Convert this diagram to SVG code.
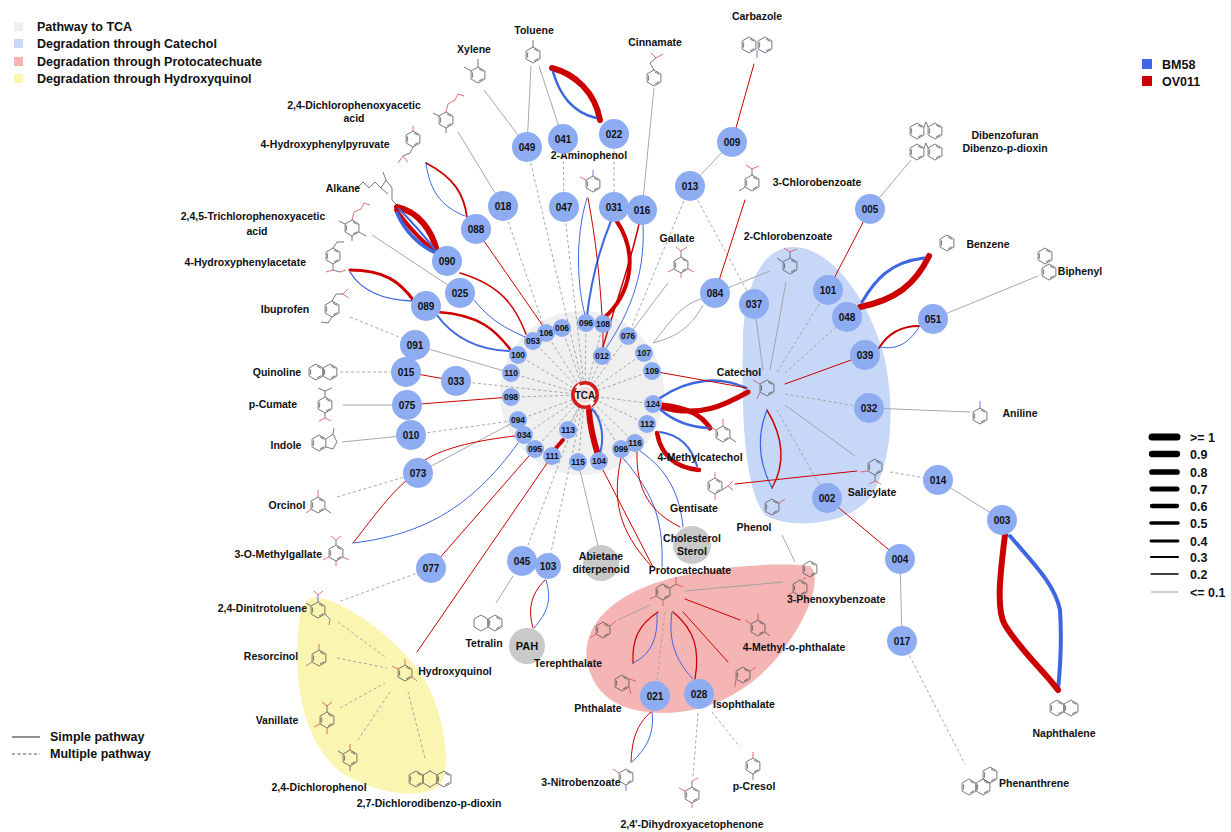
<svg xmlns="http://www.w3.org/2000/svg" width="1231" height="832" viewBox="0 0 1231 832">
<style>
text{font-family:"Liberation Sans",Arial,sans-serif;font-weight:bold;fill:#111}
.lb{font-size:10.5px;text-anchor:middle}
.le{font-size:10.5px;text-anchor:end}
.ls{font-size:10.5px;text-anchor:start}
.lg{font-size:12.5px}
.n{fill:#8eacf2}
.gn{fill:#c9c9c9}
.nt{font-size:10px;text-anchor:middle}
.ni{font-size:8.5px;text-anchor:middle}
.r{stroke:#cc0000;fill:none;stroke-linecap:round}
.b{stroke:#3d66e0;fill:none;stroke-linecap:round}
.g{stroke:#9d9d9d;fill:none;stroke-width:.9}
.d{stroke:#9d9d9d;fill:none;stroke-width:.9;stroke-dasharray:3 2.5}
.mol{stroke:#555;fill:none;stroke-width:.8}
.o{stroke:#d94b4b;fill:none;stroke-width:.8}
.nn{stroke:#4a5ad0;fill:none;stroke-width:.8}
.w{stroke:#000;stroke-linecap:round}
</style>
<defs>
<symbol id="bz" overflow="visible"><path d="M0,-8 L6.9,-4 L6.9,4 L0,8 L-6.9,4 L-6.9,-4 Z M1,-6 L5.2,-3.6 M5.2,3.6 L1,6 M-5.4,2.6 L-5.4,-2.6"/></symbol>
<symbol id="hx" overflow="visible"><path d="M0,-8 L6.9,-4 L6.9,4 L0,8 L-6.9,4 L-6.9,-4 Z"/></symbol>
</defs>

<g id="regions">
<circle cx="582" cy="393" r="82" fill="#efefef"/>
<path d="M790 247 C830 244 870 300 885 360 C895 410 892 460 872 495 C850 526 790 530 765 515 C745 490 741 420 743 340 C744 290 760 250 790 247 Z" fill="#c7d7f8"/>
<path d="M810 566 C822 576 810 612 790 640 C765 680 720 712 665 713 C625 713 595 700 587 662 C582 626 610 600 650 585 C690 570 760 561 810 566 Z" fill="#f5b5b5"/>
<path d="M315 597 C345 600 400 640 425 680 C445 715 452 770 440 785 C425 800 380 795 345 775 C310 752 296 700 297 650 C298 615 302 598 315 597 Z" fill="#fbf5b2"/>
</g>

<g id="legend-regions">
<rect x="14" y="22" width="9" height="9" fill="#efefef"/>
<rect x="14" y="39" width="9" height="9" fill="#c7d7f8"/>
<rect x="14" y="57" width="9" height="9" fill="#f5b5b5"/>
<rect x="14" y="74" width="9" height="9" fill="#fbf5b2"/>
<text class="lg" x="37" y="31">Pathway to TCA</text>
<text class="lg" x="37" y="48">Degradation through Catechol</text>
<text class="lg" x="37" y="66">Degradation through Protocatechuate</text>
<text class="lg" x="37" y="83">Degradation through Hydroxyquinol</text>
</g>
<g id="legend-strains">
<rect x="1142" y="59" width="10" height="10" fill="#3d66e0"/>
<rect x="1142" y="76" width="10" height="10" fill="#cc0000"/>
<text class="lg" x="1162" y="69">BM58</text>
<text class="lg" x="1162" y="86">OV011</text>
</g>
<g id="legend-lines">
<line x1="12" y1="737" x2="40" y2="737" stroke="#222" stroke-width="1"/>
<line x1="12" y1="754" x2="40" y2="754" stroke="#555" stroke-width="1" stroke-dasharray="3 2.5"/>
<text class="lg" x="50" y="741">Simple pathway</text>
<text class="lg" x="50" y="758">Multiple pathway</text>
</g>
<g id="legend-width">
<line class="w" x1="1152" y1="437" x2="1177" y2="437" stroke-width="7"/>
<line class="w" x1="1152" y1="454" x2="1177" y2="454" stroke-width="6.3"/>
<line class="w" x1="1152" y1="472" x2="1177" y2="472" stroke-width="5.7"/>
<line class="w" x1="1152" y1="489" x2="1177" y2="489" stroke-width="5"/>
<line class="w" x1="1152" y1="506" x2="1177" y2="506" stroke-width="4.3"/>
<line class="w" x1="1151" y1="523" x2="1178" y2="523" stroke-width="3.6"/>
<line class="w" x1="1151" y1="541" x2="1178" y2="541" stroke-width="2.9"/>
<line class="w" x1="1151" y1="557" x2="1178" y2="557" stroke-width="2.1"/>
<line class="w" x1="1151" y1="574" x2="1178" y2="574" stroke-width="1.4"/>
<line x1="1151" y1="592" x2="1178" y2="592" stroke="#999" stroke-width="1"/>
<text class="lg" x="1190" y="442">&gt;= 1</text>
<text class="lg" x="1190" y="459">0.9</text>
<text class="lg" x="1190" y="477">0.8</text>
<text class="lg" x="1190" y="494">0.7</text>
<text class="lg" x="1190" y="511">0.6</text>
<text class="lg" x="1190" y="528">0.5</text>
<text class="lg" x="1190" y="546">0.4</text>
<text class="lg" x="1190" y="562">0.3</text>
<text class="lg" x="1190" y="579">0.2</text>
<text class="lg" x="1190" y="597">&lt;= 0.1</text>
</g>

<g id="connectors">
<g>
<line class="d" x1="586" y1="323" x2="585" y2="395"/>
<line class="d" x1="562" y1="328" x2="585" y2="395"/>
<line class="d" x1="546" y1="333" x2="585" y2="395"/>
<line class="d" x1="533" y1="341" x2="585" y2="395"/>
<line class="d" x1="518" y1="355" x2="585" y2="395"/>
<line class="d" x1="511" y1="373" x2="585" y2="395"/>
<line class="d" x1="511" y1="397" x2="585" y2="395"/>
<line class="d" x1="518" y1="420" x2="585" y2="395"/>
<line class="d" x1="524" y1="435" x2="585" y2="395"/>
<line class="d" x1="535" y1="449" x2="585" y2="395"/>
<line class="d" x1="552" y1="456" x2="585" y2="395"/>
<line class="d" x1="568" y1="430" x2="585" y2="395"/>
<line class="d" x1="578" y1="462" x2="585" y2="395"/>
<line class="d" x1="621" y1="449" x2="585" y2="395"/>
<line class="d" x1="635" y1="443" x2="585" y2="395"/>
<line class="d" x1="647" y1="424" x2="585" y2="395"/>
<line class="d" x1="653" y1="404" x2="585" y2="395"/>
<line class="d" x1="652" y1="371" x2="585" y2="395"/>
<line class="d" x1="644" y1="353" x2="585" y2="395"/>
<line class="d" x1="628" y1="336" x2="585" y2="395"/>
<line class="d" x1="602" y1="356" x2="585" y2="395"/>
<line class="d" x1="603" y1="324" x2="585" y2="395"/>
</g>
<line class="g" x1="484" y1="90" x2="527" y2="147"/>
<line class="g" x1="531" y1="66" x2="527" y2="147"/>
<line class="g" x1="539" y1="66" x2="563" y2="139"/>
<path class="r" stroke-width="6" d="M552 68 C575 74 595 92 600 120"/>
<path class="b" stroke-width="2.5" d="M553 72 C560 95 572 112 596 118"/>
<line class="d" x1="527" y1="147" x2="585" y2="395"/>
<line class="d" x1="563" y1="139" x2="564" y2="207"/>
<line class="d" x1="564" y1="207" x2="585" y2="395"/>
<line class="d" x1="614" y1="134" x2="614" y2="207"/>
<line class="g" x1="654" y1="88" x2="642" y2="210"/>
<line class="r" x1="754" y1="64" x2="732" y2="142"/>
<line class="g" x1="732" y1="142" x2="690" y2="186"/>
<line class="d" x1="690" y1="186" x2="628" y2="336"/>
<line class="d" x1="690" y1="186" x2="754" y2="304"/>
<line class="g" x1="458" y1="132" x2="503" y2="206"/>
<line class="d" x1="503" y1="206" x2="546" y2="333"/>
<path class="r" stroke-width="1.8" d="M426 163 C455 178 464 195 467 217"/>
<path class="b" d="M426 163 C430 195 445 208 465 216"/>
<path class="r" stroke-width="6" d="M397 207 C420 212 432 232 437 251"/>
<path class="r" stroke-width="4" d="M396 210 C408 226 424 244 437 252"/>
<path class="b" stroke-width="3.5" d="M397 213 C405 232 420 246 436 253"/>
<path class="b" stroke-width="2" d="M399 209 C412 222 426 238 436 251"/>
<line class="g" x1="372" y1="235" x2="460" y2="293"/>
<path class="r" stroke-width="3" d="M350 270 C385 270 400 282 414 301"/>
<path class="b" stroke-width="1.3" d="M350 272 C362 292 385 300 412 301"/>
<path class="r" stroke-width="2.5" d="M438 312 C480 315 495 330 510 349"/>
<path class="b" stroke-width="2" d="M436 314 C455 340 480 350 509 351"/>
<path class="r" stroke-width="1.5" d="M460 273 C500 285 515 305 526 334"/>
<path class="b" d="M474 300 C490 320 505 328 525 337"/>
<line class="r" x1="484" y1="241" x2="543" y2="326"/>
<line class="g" x1="415" y1="345" x2="511" y2="373"/>
<line class="d" x1="350" y1="317" x2="404" y2="339"/>
<line class="d" x1="340" y1="372" x2="392" y2="372"/>
<line class="r" x1="406" y1="372" x2="456" y2="381"/>
<line class="d" x1="456" y1="381" x2="585" y2="395"/>
<line class="g" x1="343" y1="405" x2="407" y2="405"/>
<line class="r" x1="407" y1="405" x2="511" y2="397"/>
<line class="g" x1="342" y1="442" x2="411" y2="435"/>
<line class="d" x1="411" y1="435" x2="518" y2="420"/>
<line class="g" x1="418" y1="473" x2="518" y2="420"/>
<path class="r" d="M425 460 C445 447 480 440 515 436"/>
<line class="d" x1="337" y1="497" x2="418" y2="473"/>
<path class="r" d="M353 543 C375 515 393 490 410 478"/>
<path class="b" d="M353 543 C420 535 470 510 518 443"/>
<line class="r" x1="535" y1="449" x2="431" y2="568"/>
<line class="r" x1="552" y1="456" x2="417" y2="652"/>
<line class="d" x1="431" y1="568" x2="338" y2="602"/>
<line class="d" x1="338" y1="622" x2="385" y2="657"/>
<line class="d" x1="337" y1="658" x2="387" y2="668"/>
<line class="d" x1="340" y1="708" x2="385" y2="683"/>
<line class="d" x1="358" y1="740" x2="390" y2="692"/>
<line class="d" x1="425" y1="758" x2="408" y2="692"/>
<line class="d" x1="522" y1="561" x2="585" y2="395"/>
<line class="d" x1="548" y1="566" x2="585" y2="395"/>
<line class="g" x1="513" y1="576" x2="496" y2="603"/>
<path class="r" d="M545 580 C530 595 528 610 533 628"/>
<path class="b" d="M546 580 C552 600 548 612 534 628"/>
<line class="g" x1="578" y1="462" x2="598" y2="546"/>
<line class="r" x1="603" y1="470" x2="653" y2="567"/>
<path class="r" d="M621 458 C612 500 618 530 652 567"/>
<path class="b" d="M623 458 C650 490 664 515 662 567"/>
<path class="r" d="M637 452 C636 490 650 512 680 527"/>
<path class="b" d="M640 451 C668 470 680 495 683 527"/>
<path class="b" stroke-width="2" d="M592 409 C603 420 604 440 600 453"/>
<path class="r" stroke-width="6" d="M589 411 C590 428 594 442 598 455"/>
<line class="r" stroke-width="4" x1="556" y1="448" x2="563" y2="440"/>
<path class="b" stroke-width="2.5" d="M660 398 C690 378 720 376 746 388"/>
<path class="r" stroke-width="5" d="M661 407 C700 418 725 405 748 392"/>
<path class="r" stroke-width="5" d="M662 405 C690 408 702 416 710 428"/>
<path class="b" stroke-width="2.5" d="M661 410 C675 422 690 427 708 428"/>
<path class="r" stroke-width="4.5" d="M657 433 C662 460 680 468 699 470"/>
<path class="b" stroke-width="2" d="M660 432 C680 435 692 448 697 466"/>
<line class="r" x1="652" y1="371" x2="747" y2="388"/>
<path class="r" stroke-width="1.5" d="M767 410 C785 440 785 465 772 488"/>
<path class="b" stroke-width="1.2" d="M767 410 C755 440 760 465 772 488"/>
<line class="g" x1="763" y1="370" x2="754" y2="304"/>
<line class="g" x1="770" y1="370" x2="786" y2="282"/>
<line class="d" x1="777" y1="372" x2="828" y2="290"/>
<line class="d" x1="785" y1="373" x2="847" y2="317"/>
<line class="r" x1="785" y1="384" x2="865" y2="355"/>
<line class="d" x1="785" y1="394" x2="869" y2="408"/>
<line class="g" x1="785" y1="405" x2="855" y2="456"/>
<line class="d" x1="777" y1="410" x2="827" y2="498"/>
<line class="g" x1="869" y1="408" x2="970" y2="412"/>
<path class="r" stroke-width="2" d="M879 348 C890 330 905 326 919 326"/>
<path class="b" d="M880 347 C895 350 908 345 919 327"/>
<path class="r" stroke-width="6" d="M860 307 C895 300 915 285 929 256"/>
<path class="b" stroke-width="3" d="M862 302 C875 280 890 262 924 258"/>
<line class="g" x1="933" y1="319" x2="1038" y2="276"/>
<line class="r" x1="828" y1="290" x2="870" y2="209"/>
<line class="g" x1="870" y1="209" x2="911" y2="160"/>
<line class="r" x1="715" y1="293" x2="745" y2="200"/>
<line class="g" x1="715" y1="293" x2="770" y2="271"/>
<path class="g" d="M701 299 C680 305 668 325 653 343"/>
<path class="g" d="M703 305 C690 330 672 338 653 343"/>
<line class="g" x1="668" y1="283" x2="628" y2="336"/>
<path class="r" stroke-width="4" d="M616 220 C640 255 630 295 604 318"/>
<path class="b" stroke-width="2" d="M611 221 C597 255 590 290 587 316"/>
<path class="r" d="M588 198 C596 240 600 280 602 316"/>
<path class="b" d="M587 198 C574 240 578 290 585 315"/>
<path class="r" stroke-width="1.5" d="M639 224 C630 265 615 305 603 347"/>
<path class="b" d="M643 224 C646 280 625 320 606 348"/>
<line class="r" x1="603" y1="324" x2="603" y2="356"/>
<line class="r" x1="827" y1="498" x2="900" y2="559"/>
<line class="d" x1="890" y1="472" x2="938" y2="480"/>
<line class="g" x1="938" y1="480" x2="1002" y2="520"/>
<path class="b" stroke-width="4" d="M1010 536 C1035 565 1055 585 1060 610 C1062 640 1060 670 1058 690"/>
<path class="r" stroke-width="6" d="M1005 535 C1000 575 996 610 1005 625 C1020 650 1045 672 1058 690"/>
<line class="g" x1="900" y1="559" x2="902" y2="641"/>
<line class="d" x1="902" y1="641" x2="965" y2="764"/>
<line class="g" x1="782" y1="535" x2="795" y2="562"/>
<line class="r" x1="735" y1="484" x2="857" y2="471"/>
<line class="g" x1="685" y1="591" x2="783" y2="582"/>
<line class="g" x1="618" y1="620" x2="650" y2="605"/>
<line class="r" x1="685" y1="599" x2="740" y2="620"/>
<line class="r" x1="683" y1="612" x2="728" y2="662"/>
<path class="r" stroke-width="1.3" d="M673 612 C695 630 700 650 695 679"/>
<path class="b" d="M672 612 C668 640 675 660 693 679"/>
<path class="r" stroke-width="1.3" d="M658 612 C638 625 632 640 633 663"/>
<path class="b" d="M657 614 C658 640 650 655 633 663"/>
<line class="d" x1="665" y1="612" x2="657" y2="680"/>
<path class="r" d="M651 712 C636 725 632 740 631 762"/>
<path class="b" d="M652 712 C655 735 645 750 632 762"/>
<line class="d" x1="698" y1="713" x2="693" y2="777"/>
<line class="d" x1="712" y1="712" x2="740" y2="747"/>
</g>

<g id="toluene"><g class="mol"><use href="#bz" x="533" y="55"/><line x1="533" y1="47" x2="533" y2="40"/></g><text class="lb" x="534" y="34">Toluene</text></g>
<g id="xylene"><g class="mol"><use href="#bz" x="478" y="75"/><line x1="478" y1="67" x2="478" y2="59"/><line x1="471" y1="71" x2="464" y2="67"/></g><text class="lb" x="474" y="53">Xylene</text></g>
<g id="cinnamate"><g class="mol"><use href="#bz" x="654" y="78"/><path d="M654 70 L650 63 L656 58"/></g><path class="o" d="M656 58 L651 53 M656 58 L663 54"/><text class="lb" x="655" y="46">Cinnamate</text></g>
<g id="carbazole"><g class="mol"><use href="#bz" x="749" y="45"/><use href="#bz" x="765" y="45"/></g><path class="nn" d="M757 50 L757 58"/><text class="lb" x="757" y="20">Carbazole</text></g>
<g id="d24"><g class="mol"><use href="#bz" x="446" y="120"/><line x1="439" y1="116" x2="433" y2="113"/><line x1="446" y1="128" x2="446" y2="133"/></g><path class="o" d="M446 112 L448 104 L455 100 L458 94 M458 94 L464 96"/><text class="lb" x="354" y="109">2,4-Dichlorophenoxyacetic</text><text class="lb" x="354" y="122">acid</text></g>
<g id="hpp"><g class="mol"><use href="#bz" x="413" y="139"/><path d="M413 147 L410 153 L403 156"/></g><path class="o" d="M403 156 L398 163 M403 156 L408 162 M413 131 L413 126"/><text class="lb" x="325" y="148">4-Hydroxyphenylpyruvate</text></g>
<g id="alkane"><path class="mol" d="M357 188 L363 182 L369 188 L375 182 L381 188 L386 180 L392 188 L392 200 L397 205 M386 180 L383 172 M381 188 L388 194"/><text class="lb" x="343" y="192">Alkane</text></g>
<g id="t245"><g class="mol"><use href="#bz" x="352" y="228"/><line x1="345" y1="224" x2="339" y2="221"/><line x1="359" y1="232" x2="366" y2="236"/><line x1="352" y1="236" x2="352" y2="241"/></g><path class="o" d="M352 220 L354 212 L361 209 L364 203 M364 203 L370 205"/><text class="lb" x="253" y="220">2,4,5-Trichlorophenoxyacetic</text><text class="lb" x="257" y="235">acid</text></g>
<g id="hpa"><g class="mol"><use href="#bz" x="333" y="256"/><path d="M333 264 L333 270 L340 272"/><path d="M333 248 L337 242 L344 242"/></g><path class="o" d="M333 270 L326 272 M340 272 L346 270"/><text class="le" x="306" y="266">4-Hydroxyphenylacetate</text></g>
<g id="ibuprofen"><g class="mol"><use href="#bz" x="332" y="309"/><path d="M332 301 L336 294 L343 294 M332 317 L328 323 L321 322"/></g><path class="o" d="M343 294 L348 289 M343 294 L349 298"/><text class="lb" x="285" y="313">Ibuprofen</text></g>
<g id="quinoline"><g class="mol"><use href="#bz" x="316" y="372"/><use href="#bz" x="330" y="372"/></g><text class="lb" x="277" y="376">Quinoline</text></g>
<g id="pcumate"><g class="mol"><use href="#bz" x="325" y="405"/><path d="M325 397 L325 391 L318 388 M325 391 L332 388"/><line x1="325" y1="413" x2="325" y2="418"/></g><path class="o" d="M325 418 L319 421 M325 418 L331 421"/><text class="lb" x="273" y="408">p-Cumate</text></g>
<g id="indole"><g class="mol"><use href="#bz" x="319" y="443"/><path d="M326 439 L333 434 L337 442 L333 449 L326 447"/></g><path class="nn" d="M333 434 L334 428"/><text class="lb" x="286" y="449">Indole</text></g>
<g id="orcinol"><g class="mol"><use href="#bz" x="318" y="505"/><line x1="325" y1="509" x2="331" y2="513"/></g><path class="o" d="M318 497 L318 490 M311 509 L306 513"/><text class="lb" x="287" y="509">Orcinol</text></g>
<g id="omg"><g class="mol"><use href="#bz" x="336" y="553"/><line x1="336" y1="545" x2="336" y2="540"/></g><path class="o" d="M336 540 L331 536 M336 540 L341 536 M329 557 L323 560 M343 557 L349 560 M336 561 L336 566"/><text class="le" x="322" y="558">3-O-Methylgallate</text></g>
<g id="aminophenol"><g class="mol"><use href="#bz" x="593" y="184"/></g><path class="nn" d="M593 176 L593 170"/><path class="o" d="M586 180 L580 177"/><text class="lb" x="589" y="159">2-Aminophenol</text></g>
<g id="cb3"><g class="mol"><use href="#bz" x="752" y="183"/><line x1="752" y1="175" x2="752" y2="169"/><line x1="745" y1="187" x2="739" y2="191"/></g><path class="o" d="M752 169 L746 165 M752 169 L759 166"/><text class="lb" x="817" y="186">3-Chlorobenzoate</text></g>
<g id="dbf"><g class="mol"><use href="#bz" x="917" y="131"/><use href="#bz" x="935" y="131"/><path d="M924 127 L926 122 L928 127"/><use href="#bz" x="917" y="152"/><use href="#bz" x="935" y="152"/><path d="M924 148 L926 143 L928 148"/></g><text class="lb" x="1005" y="139">Dibenzofuran</text><text class="lb" x="1005" y="152">Dibenzo-p-dioxin</text></g>
<g id="gallate"><g class="mol"><use href="#bz" x="681" y="265"/><line x1="681" y1="257" x2="681" y2="251"/></g><path class="o" d="M681 251 L676 247 M681 251 L687 247 M674 269 L668 272 M688 269 L694 272 M681 273 L681 278"/><text class="lb" x="677" y="242">Gallate</text></g>
<g id="cb2"><g class="mol"><use href="#bz" x="790" y="266"/><line x1="790" y1="258" x2="790" y2="252"/><line x1="783" y1="262" x2="777" y2="258"/></g><path class="o" d="M790 252 L784 248 M790 252 L797 249"/><text class="lb" x="788" y="240">2-Chlorobenzoate</text></g>
<g id="benzene"><g class="mol"><use href="#bz" x="947" y="243"/></g><text class="lb" x="988" y="248">Benzene</text></g>
<g id="biphenyl"><g class="mol"><use href="#bz" x="1045" y="256"/><use href="#bz" x="1049" y="272"/></g><text class="lb" x="1080" y="275">Biphenyl</text></g>
<g id="catechol"><g class="mol"><use href="#bz" x="767" y="388"/></g><path class="o" d="M760 384 L753 380 M760 392 L757 399"/><text class="lb" x="739" y="376">Catechol</text></g>
<g id="aniline"><g class="mol"><use href="#bz" x="980" y="416"/></g><path class="nn" d="M980 408 L980 401"/><text class="lb" x="1020" y="417">Aniline</text></g>
<g id="mcatechol"><g class="mol"><use href="#bz" x="723" y="434"/><line x1="730" y1="438" x2="736" y2="442"/></g><path class="o" d="M723 426 L723 419 M716 430 L709 427"/><text class="lb" x="700" y="461">4-Methylcatechol</text></g>
<g id="salicylate"><g class="mol"><use href="#bz" x="875" y="467"/><line x1="875" y1="475" x2="875" y2="481"/></g><path class="o" d="M868 471 L860 472 M875 481 L869 484 M875 481 L881 484"/><text class="lb" x="872" y="496">Salicylate</text></g>
<g id="gentisate"><g class="mol"><use href="#bz" x="715" y="486"/><line x1="722" y1="490" x2="728" y2="486"/></g><path class="o" d="M715 478 L715 472 M715 494 L715 500 M728 486 L733 490 M728 486 L733 481"/><text class="lb" x="694" y="512">Gentisate</text></g>
<g id="phenol"><g class="mol"><use href="#bz" x="772" y="507"/></g><path class="o" d="M779 503 L785 499"/><text class="lb" x="754" y="531">Phenol</text></g>
<g id="cholesterol"><circle class="gn" cx="692" cy="545" r="19"/><text class="lb" x="692" y="542">Cholesterol</text><text class="lb" x="692" y="555">Sterol</text></g>
<g id="abietane"><circle class="gn" cx="601" cy="563" r="18"/><text class="lb" x="601" y="560">Abietane</text><text class="lb" x="601" y="573">diterpenoid</text></g>
<g id="pah"><circle class="gn" cx="527" cy="646" r="18"/><text class="lb" x="527" y="650" style="font-size:11px">PAH</text></g>
<g id="proto"><g class="mol"><use href="#bz" x="663" y="592"/><line x1="670" y1="588" x2="676" y2="584"/></g><path class="o" d="M676 584 L676 577 M676 584 L683 587 M656 596 L650 599 M663 600 L663 606"/><text class="lb" x="690" y="574">Protocatechuate</text></g>
<g id="pb3"><g class="mol"><use href="#bz" x="800" y="588"/><use href="#bz" x="810" y="569"/></g><path class="o" d="M803 580 L806 577 M793 592 L787 596"/><text class="ls" x="787" y="603">3-Phenoxybenzoate</text></g>
<g id="mop"><g class="mol"><use href="#bz" x="758" y="628"/><line x1="765" y1="632" x2="770" y2="636"/></g><path class="o" d="M758 620 L758 613 M751 624 L745 620"/><text class="lb" x="794" y="651">4-Methyl-o-phthalate</text></g>
<g id="tereph"><g class="mol"><use href="#bz" x="603" y="630"/></g><path class="o" d="M610 626 L616 621 M596 634 L590 638"/><text class="lb" x="568" y="667">Terephthalate</text></g>
<g id="hq"><g class="mol"><use href="#bz" x="405" y="673"/></g><path class="o" d="M405 665 L405 659 M398 669 L392 666 M412 677 L417 681"/><text class="lb" x="455" y="675">Hydroxyquinol</text></g>
<g id="phthalate"><g class="mol"><use href="#bz" x="622" y="683"/></g><path class="o" d="M629 679 L636 681 M629 687 L631 694"/><text class="lb" x="598" y="712">Phthalate</text></g>
<g id="isoph"><g class="mol"><use href="#bz" x="743" y="675"/></g><path class="o" d="M750 671 L756 667 M736 679 L735 687"/><text class="lb" x="744" y="708">Isophthalate</text></g>
<g id="nb3"><g class="mol"><use href="#bz" x="626" y="777"/></g><path class="o" d="M619 773 L613 769"/><path class="nn" d="M626 785 L626 791"/><text class="lb" x="581" y="786">3-Nitrobenzoate</text></g>
<g id="dhap"><g class="mol"><use href="#bz" x="692" y="795"/><line x1="692" y1="787" x2="692" y2="781"/></g><path class="o" d="M685 791 L679 788 M692 803 L692 808 M692 781 L698 778"/><text class="lb" x="692" y="828">2,4'-Dihydroxyacetophenone</text></g>
<g id="pcresol"><g class="mol"><use href="#bz" x="753" y="766"/><line x1="753" y1="774" x2="753" y2="780"/></g><path class="o" d="M753 758 L753 752"/><text class="lb" x="754" y="790">p-Cresol</text></g>
<g id="tetralin"><g class="mol"><use href="#hx" x="481" y="623"/><use href="#bz" x="495" y="623"/></g><text class="lb" x="484" y="647">Tetralin</text></g>
<g id="dnt"><g class="mol"><use href="#bz" x="318" y="610"/><line x1="311" y1="606" x2="306" y2="603"/></g><path class="nn" d="M318 602 L318 595 M325 614 L330 619"/><path class="o" d="M318 595 L314 591 M318 595 L323 591 M330 619 L329 625"/><text class="le" x="307" y="612">2,4-Dinitrotoluene</text></g>
<g id="resorcinol"><g class="mol"><use href="#bz" x="319" y="658"/></g><path class="o" d="M319 650 L319 644 M312 662 L306 666"/><text class="lb" x="271" y="660">Resorcinol</text></g>
<g id="vanillate"><g class="mol"><use href="#bz" x="327" y="720"/><line x1="327" y1="712" x2="327" y2="706"/></g><path class="o" d="M327 706 L322 702 M327 706 L332 702 M320 724 L314 727 M327 728 L327 734"/><text class="lb" x="277" y="724">Vanillate</text></g>
<g id="dcp"><g class="mol"><use href="#bz" x="350" y="758"/><line x1="343" y1="754" x2="338" y2="751"/><line x1="350" y1="766" x2="350" y2="771"/></g><path class="o" d="M350 750 L350 744"/><text class="lb" x="319" y="791">2,4-Dichlorophenol</text></g>
<g id="dioxin"><g class="mol"><use href="#bz" x="416" y="779"/><use href="#hx" x="430" y="779"/><use href="#bz" x="444" y="779"/></g><path class="o" d="M430 771 L430 770 M430 787 L430 788"/><text class="lb" x="429" y="807">2,7-Dichlorodibenzo-p-dioxin</text></g>
<g id="naphthalene"><g class="mol"><use href="#bz" x="1057" y="708"/><use href="#bz" x="1071" y="708"/></g><text class="lb" x="1064" y="737">Naphthalene</text></g>
<g id="phenanthrene"><g class="mol"><use href="#bz" x="969" y="787"/><use href="#bz" x="983" y="787"/><use href="#bz" x="990" y="775"/></g><text class="lb" x="1034" y="787">Phenanthrene</text></g>

<g id="tca">
<circle cx="585" cy="395" r="14" fill="#d41f1f"/>
<circle cx="585" cy="395" r="9.5" fill="#f8dede" stroke="#fff" stroke-width="1.8"/>
<path d="M575 388 l4 -5 l2 6 z M595 402 l-4 5 l-2 -6 z" fill="#fff"/>
<text class="ni" x="585" y="399" style="font-size:10px">TCA</text>
</g>

<g id="inner-nodes">
<g id="n096"><circle class="n" cx="586" cy="323" r="9"/><text class="ni" x="586" y="326">096</text></g>
<g id="n108"><circle class="n" cx="603" cy="324" r="9"/><text class="ni" x="603" y="327">108</text></g>
<g id="n006"><circle class="n" cx="562" cy="328" r="9"/><text class="ni" x="562" y="331">006</text></g>
<g id="n106"><circle class="n" cx="546" cy="333" r="9"/><text class="ni" x="546" y="336">106</text></g>
<g id="n053"><circle class="n" cx="533" cy="341" r="9"/><text class="ni" x="533" y="344">053</text></g>
<g id="n100"><circle class="n" cx="518" cy="355" r="9"/><text class="ni" x="518" y="358">100</text></g>
<g id="n110"><circle class="n" cx="511" cy="373" r="9"/><text class="ni" x="511" y="376">110</text></g>
<g id="n098"><circle class="n" cx="511" cy="397" r="9"/><text class="ni" x="511" y="400">098</text></g>
<g id="n094"><circle class="n" cx="518" cy="420" r="9"/><text class="ni" x="518" y="423">094</text></g>
<g id="n034"><circle class="n" cx="524" cy="435" r="9"/><text class="ni" x="524" y="438">034</text></g>
<g id="n095"><circle class="n" cx="535" cy="449" r="9"/><text class="ni" x="535" y="452">095</text></g>
<g id="n111"><circle class="n" cx="552" cy="456" r="9"/><text class="ni" x="552" y="459">111</text></g>
<g id="n113"><circle class="n" cx="568" cy="430" r="9"/><text class="ni" x="568" y="433">113</text></g>
<g id="n115"><circle class="n" cx="578" cy="462" r="9"/><text class="ni" x="578" y="465">115</text></g>
<g id="n104"><circle class="n" cx="599" cy="461" r="9"/><text class="ni" x="599" y="464">104</text></g>
<g id="n099"><circle class="n" cx="621" cy="449" r="9"/><text class="ni" x="621" y="452">099</text></g>
<g id="n116"><circle class="n" cx="635" cy="443" r="9"/><text class="ni" x="635" y="446">116</text></g>
<g id="n112"><circle class="n" cx="647" cy="424" r="9"/><text class="ni" x="647" y="427">112</text></g>
<g id="n124"><circle class="n" cx="653" cy="404" r="9"/><text class="ni" x="653" y="407">124</text></g>
<g id="n109"><circle class="n" cx="652" cy="371" r="9"/><text class="ni" x="652" y="374">109</text></g>
<g id="n107"><circle class="n" cx="644" cy="353" r="9"/><text class="ni" x="644" y="356">107</text></g>
<g id="n076"><circle class="n" cx="628" cy="336" r="9"/><text class="ni" x="628" y="339">076</text></g>
<g id="n012"><circle class="n" cx="602" cy="356" r="9"/><text class="ni" x="602" y="359">012</text></g>
</g>

<g id="outer-nodes">
<g id="n049"><circle class="n" cx="527" cy="147" r="15"/><text class="nt" x="527" y="151">049</text></g>
<g id="n041"><circle class="n" cx="563" cy="139" r="15"/><text class="nt" x="563" y="143">041</text></g>
<g id="n022"><circle class="n" cx="614" cy="134" r="15"/><text class="nt" x="614" y="138">022</text></g>
<g id="n018"><circle class="n" cx="503" cy="206" r="15"/><text class="nt" x="503" y="210">018</text></g>
<g id="n047"><circle class="n" cx="564" cy="207" r="15"/><text class="nt" x="564" y="211">047</text></g>
<g id="n031"><circle class="n" cx="614" cy="207" r="15"/><text class="nt" x="614" y="211">031</text></g>
<g id="n016"><circle class="n" cx="642" cy="210" r="15"/><text class="nt" x="642" y="214">016</text></g>
<g id="n013"><circle class="n" cx="690" cy="186" r="15"/><text class="nt" x="690" y="190">013</text></g>
<g id="n009"><circle class="n" cx="732" cy="142" r="15"/><text class="nt" x="732" y="146">009</text></g>
<g id="n088"><circle class="n" cx="476" cy="229" r="15"/><text class="nt" x="476" y="233">088</text></g>
<g id="n090"><circle class="n" cx="447" cy="261" r="15"/><text class="nt" x="447" y="265">090</text></g>
<g id="n025"><circle class="n" cx="460" cy="293" r="15"/><text class="nt" x="460" y="297">025</text></g>
<g id="n089"><circle class="n" cx="426" cy="306" r="15"/><text class="nt" x="426" y="310">089</text></g>
<g id="n091"><circle class="n" cx="415" cy="345" r="15"/><text class="nt" x="415" y="349">091</text></g>
<g id="n015"><circle class="n" cx="406" cy="372" r="15"/><text class="nt" x="406" y="376">015</text></g>
<g id="n033"><circle class="n" cx="456" cy="381" r="15"/><text class="nt" x="456" y="385">033</text></g>
<g id="n075"><circle class="n" cx="407" cy="405" r="15"/><text class="nt" x="407" y="409">075</text></g>
<g id="n010"><circle class="n" cx="411" cy="435" r="15"/><text class="nt" x="411" y="439">010</text></g>
<g id="n073"><circle class="n" cx="418" cy="473" r="15"/><text class="nt" x="418" y="477">073</text></g>
<g id="n077"><circle class="n" cx="431" cy="568" r="15"/><text class="nt" x="431" y="572">077</text></g>
<g id="n045"><circle class="n" cx="522" cy="561" r="15"/><text class="nt" x="522" y="565">045</text></g>
<g id="n103"><circle class="n" cx="548" cy="566" r="13"/><text class="nt" x="548" y="570">103</text></g>
<g id="n084"><circle class="n" cx="715" cy="293" r="15"/><text class="nt" x="715" y="297">084</text></g>
<g id="n037"><circle class="n" cx="754" cy="304" r="15"/><text class="nt" x="754" y="308">037</text></g>
<g id="n101"><circle class="n" cx="828" cy="290" r="15"/><text class="nt" x="828" y="294">101</text></g>
<g id="n048"><circle class="n" cx="847" cy="317" r="15"/><text class="nt" x="847" y="321">048</text></g>
<g id="n039"><circle class="n" cx="865" cy="355" r="15"/><text class="nt" x="865" y="359">039</text></g>
<g id="n051"><circle class="n" cx="933" cy="319" r="15"/><text class="nt" x="933" y="323">051</text></g>
<g id="n032"><circle class="n" cx="869" cy="408" r="15"/><text class="nt" x="869" y="412">032</text></g>
<g id="n002"><circle class="n" cx="827" cy="498" r="15"/><text class="nt" x="827" y="502">002</text></g>
<g id="n005"><circle class="n" cx="870" cy="209" r="15"/><text class="nt" x="870" y="213">005</text></g>
<g id="n014"><circle class="n" cx="938" cy="480" r="15"/><text class="nt" x="938" y="484">014</text></g>
<g id="n003"><circle class="n" cx="1002" cy="520" r="15"/><text class="nt" x="1002" y="524">003</text></g>
<g id="n004"><circle class="n" cx="900" cy="559" r="15"/><text class="nt" x="900" y="563">004</text></g>
<g id="n017"><circle class="n" cx="902" cy="641" r="15"/><text class="nt" x="902" y="645">017</text></g>
<g id="n021"><circle class="n" cx="655" cy="696" r="15"/><text class="nt" x="655" y="700">021</text></g>
<g id="n028"><circle class="n" cx="699" cy="694" r="15"/><text class="nt" x="699" y="698">028</text></g>
</g>
</svg>
